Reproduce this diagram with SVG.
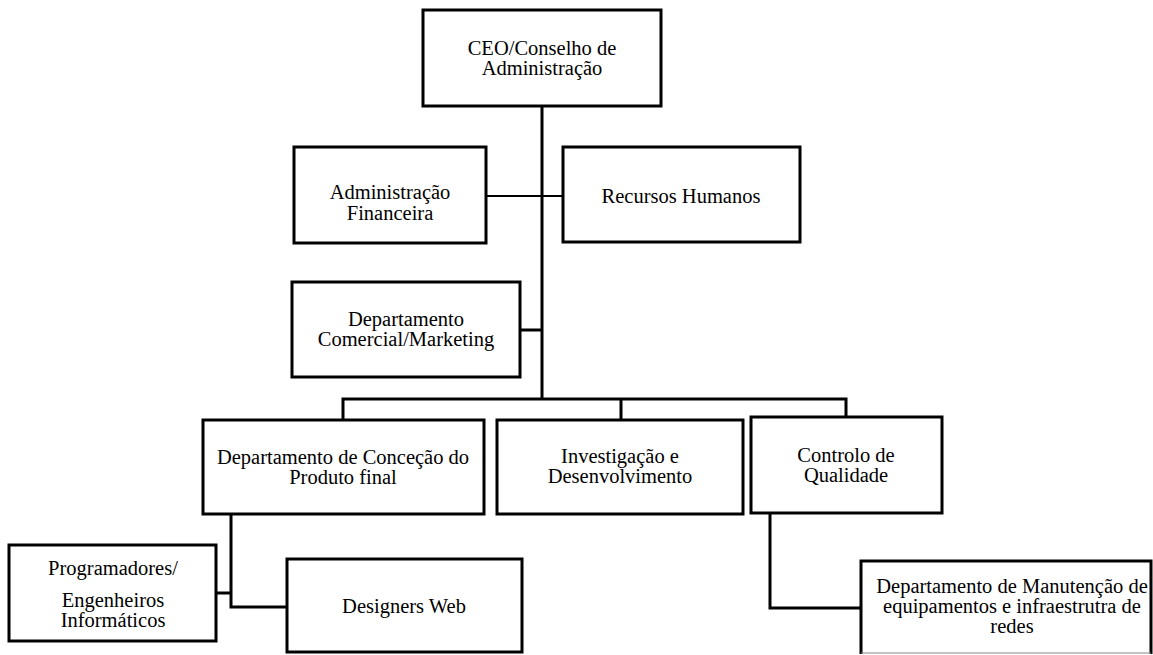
<svg xmlns="http://www.w3.org/2000/svg" width="1153" height="655" viewBox="0 0 1153 655" font-family="Liberation Serif, DejaVu Serif, serif">
<style>
.box{fill:#fff;stroke:#000;stroke-width:3}
.t{font-size:20.5px;fill:#000;text-anchor:middle}
.c{fill:none;stroke:#000;stroke-width:3}
.thin{fill:none;stroke:#000;stroke-width:2}
</style>
<rect width="1153" height="655" fill="#fff"/>
<g id="connectors">
<path class="c" d="M542,106 V400" stroke-width="3.5"/>
<path class="thin" d="M486,196 H563"/>
<path class="c" d="M520,330 H542"/>
<path class="c" d="M343,420 V399 H846 V417"/>
<path class="c" d="M621,399 V420"/>
<path class="c" d="M231,514 V607 H287"/>
<path class="c" d="M216,593 H231"/>
<path class="c" d="M770,513 V608 H861"/>
</g>
<g id="ceo">
<rect class="box" x="423" y="10" width="238" height="96"/>
<text class="t" x="542" y="55">CEO/Conselho de</text>
<text class="t" x="542" y="75">Administração</text>
</g>
<g id="admin-financeira">
<rect class="box" x="294" y="147" width="192" height="96"/>
<text class="t" x="390" y="199">Administração</text>
<text class="t" x="390" y="220">Financeira</text>
</g>
<g id="recursos-humanos">
<rect class="box" x="563" y="147" width="237" height="95"/>
<text class="t" x="681" y="203">Recursos Humanos</text>
</g>
<g id="comercial">
<rect class="box" x="292" y="282" width="228" height="95"/>
<text class="t" x="406" y="326">Departamento</text>
<text class="t" x="406" y="346">Comercial/Marketing</text>
</g>
<g id="concecao">
<rect class="box" x="203" y="420" width="281" height="94"/>
<text class="t" x="343" y="464">Departamento de Conceção do</text>
<text class="t" x="343" y="484">Produto final</text>
</g>
<g id="investigacao">
<rect class="box" x="497" y="420" width="246" height="94"/>
<text class="t" x="620" y="463">Investigação e</text>
<text class="t" x="620" y="483">Desenvolvimento</text>
</g>
<g id="controlo">
<rect class="box" x="751" y="417" width="191" height="96"/>
<text class="t" x="846" y="462">Controlo de</text>
<text class="t" x="846" y="482">Qualidade</text>
</g>
<g id="programadores">
<rect class="box" x="9" y="545" width="207" height="96"/>
<text class="t" x="113" y="575">Programadores/</text>
<text class="t" x="113" y="607">Engenheiros</text>
<text class="t" x="113" y="627">Informáticos</text>
</g>
<g id="designers">
<rect class="box" x="287" y="559" width="235" height="93"/>
<text class="t" x="404" y="613">Designers Web</text>
</g>
<g id="manutencao">
<path d="M861,654 V561 H1151 V654" fill="#fff" stroke="#000" stroke-width="3"/>
<path d="M861,653 H1151" stroke="#888" stroke-width="1"/>
<text class="t" x="1012" y="593">Departamento de Manutenção de</text>
<text class="t" x="1012" y="613">equipamentos e infraestrutra de</text>
<text class="t" x="1012" y="633">redes</text>
</g>
</svg>
